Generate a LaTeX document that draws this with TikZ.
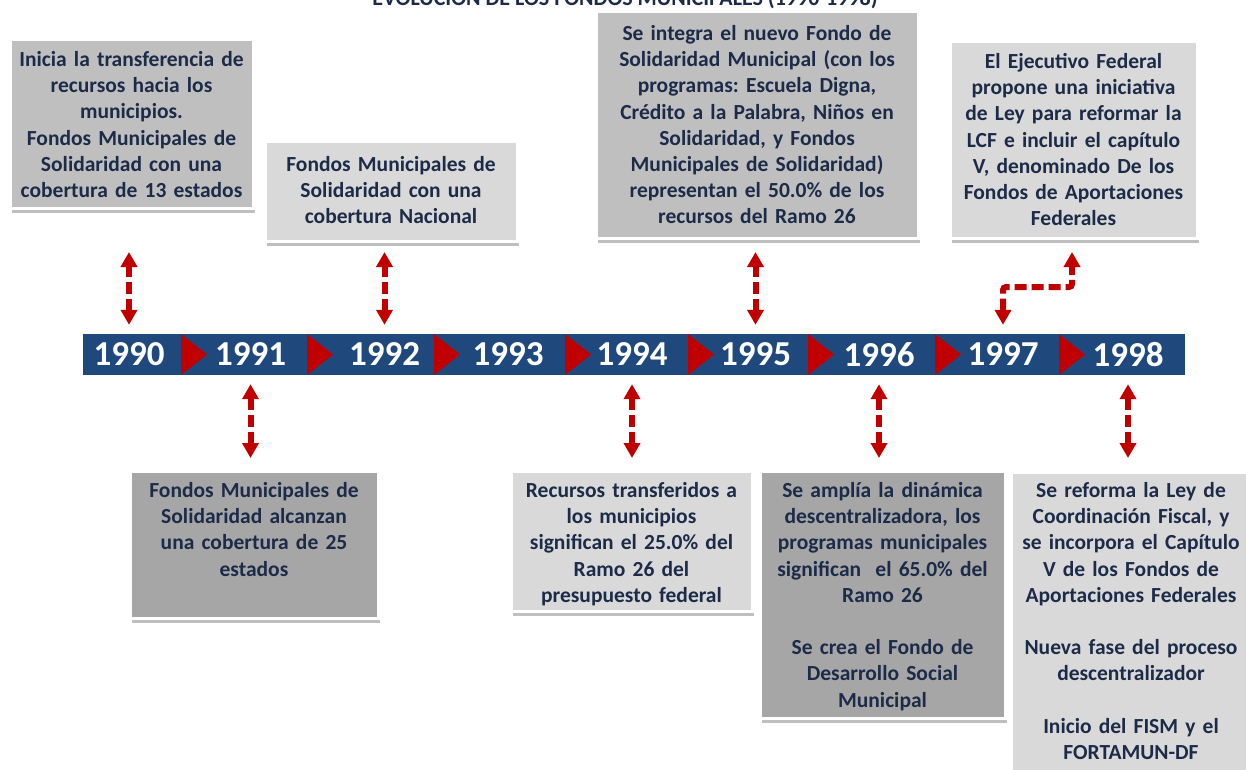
\documentclass[tikz,border=0pt]{standalone}
\usepackage{fontspec}
\setmainfont{Carlito}
\usetikzlibrary{arrows.meta,shadows}
\frenchspacing

\definecolor{evblue}{HTML}{1F497D}
\definecolor{evred}{HTML}{C00000}
\definecolor{evtext}{HTML}{1C2B48}
\definecolor{grisA}{HTML}{BFBFBF}
\definecolor{grisB}{HTML}{D9D9D9}
\definecolor{grisC}{HTML}{A6A6A6}

\tikzset{
  evbox/.style={draw=white, line width=3pt, inner xsep=0pt, inner ysep=0pt,
    align=center, anchor=north, text=evtext,
    font=\fontsize{21.5}{26.2}\selectfont\bfseries,
    drop shadow={shadow xshift=2pt, shadow yshift=-4pt, opacity=0.25, fill=black}},
  evyear/.style={text=white, inner sep=0pt, minimum height=41pt,
    font=\fontsize{35}{40}\selectfont\bfseries},
  evarrow/.style={evred, line width=6pt, dash pattern=on 12pt off 5pt,
    {Triangle[width=16pt,length=15pt]}-{Triangle[width=16pt,length=15pt]}}
}

\begin{document}
\begin{tikzpicture}[x=1pt,y=-1pt]
    \useasboundingbox (0,0) rectangle (1246,769);

    % Title, cut off by the top edge
    \node[anchor=base, text=evtext, font=\fontsize{22}{26}\selectfont\bfseries] (titulo)
        at (625,5) {EVOLUCIÓN DE LOS FONDOS MUNICIPALES (1990-1998)};

    % Timeline bar with red chevrons
    \fill[evblue] (83,334) rectangle (1185,375);
    \foreach \x in {181,307,434,565,688,808,935,1059}
        \fill[evred] (\x,334) -- (\x+26,354.5) -- (\x,375) -- cycle;

    % Years
    \foreach \x/\a in {129/1990,250.5/1991,384.5/1992,508/1993,632/1994,
                       755.5/1995,879/1996,1003/1997,1128/1998}
        \node[evyear] (y\a) at (\x,354.5) {\a};

    % Boxes above the bar
    \node[evbox, fill=grisA, text width=243pt, text height=27pt, text depth=142pt] (b1990)
        at (131.5,38) {Inicia la transferencia de\\recursos hacia los\\municipios.\\Fondos Municipales de\\Solidaridad con una\\cobertura de 13 estados};
    \node[evbox, fill=grisB, text width=252pt, text height=30pt, text depth=70pt] (b1992)
        at (391,140) {Fondos Municipales de\\Solidaridad con una\\cobertura Nacional};
    \node[evbox, fill=grisA, text width=322pt, text height=29pt, text depth=198pt] (b1995)
        at (757,10) {Se integra el nuevo Fondo de\\Solidaridad Municipal (con los\\programas: Escuela Digna,\\Crédito a la Palabra, Niños en\\Solidaridad, y Fondos\\Municipales de Solidaridad)\\representan el 50.0\% de los\\recursos del Ramo 26};
    \node[evbox, fill=grisB, text width=247pt, text height=27pt, text depth=170pt] (b1997)
        at (1073.5,40) {El Ejecutivo Federal\\propone una iniciativa\\de Ley para reformar la\\LCF e incluir el capítulo\\V, denominado De los\\Fondos de Aportaciones\\Federales};

    % Boxes below the bar
    \node[evbox, fill=grisC, text width=248pt, text height=26pt, text depth=121pt] (b1991)
        at (254,470) {Fondos Municipales de\\Solidaridad alcanzan\\una cobertura de 25\\estados};
    \node[evbox, fill=grisB, text width=241pt, text height=26pt, text depth=114pt] (b1994)
        at (631.5,470) {Recursos transferidos a\\los municipios\\significan el 25.0\% del\\Ramo 26 del\\presupuesto federal};
    \node[evbox, fill=grisC, text width=245pt, text height=26pt, text depth=221pt] (b1996)
        at (882.5,470) {Se amplía la dinámica\\descentralizadora, los\\programas municipales\\significan\ \ el 65.0\% del\\Ramo 26\\[26.2pt]Se crea el Fondo de\\Desarrollo Social\\Municipal};
    \node[evbox, fill=grisB, text width=240pt, text height=25pt, text depth=290pt] (b1998)
        at (1131,471) {Se reforma la Ley de\\Coordinación Fiscal, y\\se incorpora el Capítulo\\V de los Fondos de\\Aportaciones Federales\\[26.2pt]Nueva fase del proceso\\descentralizador\\[26.2pt]Inicio del FISM y el\\FORTAMUN-DF};

    % Dashed double arrows, years to boxes
    \draw[evarrow, shorten <=9pt, shorten >=42pt] (y1990.north) -- (y1990.north |- b1990.south);
    \draw[evarrow, shorten <=9pt, shorten >=9pt] (y1992.north) -- (y1992.north |- b1992.south);
    \draw[evarrow, shorten <=9pt, shorten >=12pt] (y1995.north) -- (y1995.north |- b1995.south);
    \coordinate (codo) at (1072,287);
    \draw[evarrow, rounded corners=3pt, shorten <=9pt, shorten >=12pt]
        (y1997.north) |- (codo) -- (codo |- b1997.south);

    \draw[evarrow, shorten <=9pt, shorten >=12pt] (y1991.south) -- (y1991.south |- b1991.north);
    \draw[evarrow, shorten <=9pt, shorten >=12pt] (y1994.south) -- (y1994.south |- b1994.north);
    \draw[evarrow, shorten <=9pt, shorten >=12pt] (y1996.south) -- (y1996.south |- b1996.north);
    \draw[evarrow, shorten <=9pt, shorten >=13pt] (y1998.south) -- (y1998.south |- b1998.north);

\end{tikzpicture}
\end{document}
